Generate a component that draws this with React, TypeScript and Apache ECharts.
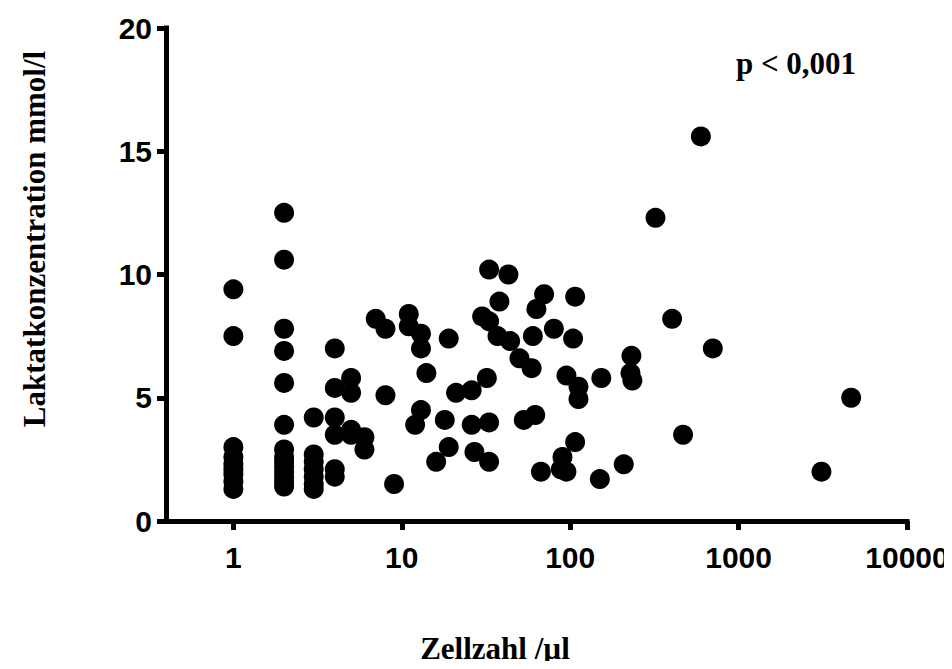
import React, { useEffect, useRef } from "react";
import * as echarts from "echarts";

// Cell count per µl (x, log scale) and lactate concentration mmol/l (y)
const cellCount: number[] = [
  1, 1, 1, 1, 1, 1, 1, 1, 1,
  2, 2, 2, 2, 2, 2, 2, 2, 2, 2, 2, 2, 2, 2,
  3, 3, 3, 3, 3, 3, 3,
  4, 4, 4, 4, 4, 4,
  5, 5, 5, 5,
  6, 6,
  7, 8, 8, 9,
  11, 11, 12, 13, 13, 13, 14, 16, 18, 19, 19, 21, 26, 26, 27,
  30, 32, 33, 33, 33, 33, 37, 38, 43, 44, 50, 53, 59, 60, 62, 63, 67, 70, 80,
  88, 90, 95, 95, 104, 107, 107, 112, 112, 150, 153, 208, 228, 231, 234,
  321, 403, 468, 597, 703, 3105, 4659,
];
const lactate: number[] = [
  9.4, 7.5, 3.0, 2.6, 2.3, 2.1, 1.9, 1.6, 1.3,
  12.5, 10.6, 7.8, 6.9, 5.6, 3.9, 2.9, 2.6, 2.4, 2.2, 2.0, 1.8, 1.6, 1.4,
  4.2, 2.7, 2.4, 2.1, 1.8, 1.5, 1.3,
  7.0, 5.4, 4.2, 3.5, 2.1, 1.8,
  5.8, 5.2, 3.7, 3.5,
  3.4, 2.9,
  8.2, 7.8, 5.1, 1.5,
  8.4, 7.9, 3.9, 7.6, 7.0, 4.5, 6.0, 2.4, 4.1, 7.4, 3.0, 5.2, 5.3, 3.9, 2.8,
  8.3, 5.8, 10.2, 8.1, 4.0, 2.4, 7.5, 8.9, 10.0, 7.3, 6.6, 4.1, 6.2, 7.5, 4.3, 8.6, 2.0, 9.2, 7.8,
  2.1, 2.6, 5.9, 2.0, 7.4, 9.1, 3.2, 5.45, 4.95, 1.7, 5.8, 2.3, 6.0, 6.7, 5.7,
  12.3, 8.2, 3.5, 15.6, 7.0, 2.0, 5.0,
];

const xTicks: number[] = [1, 10, 100, 1000, 10000];
const yTicks: number[] = [0, 5, 10, 15, 20];

const xTitle = "Zellzahl /µl";
const yTitle = "Laktatkonzentration mmol/l";
const pText = "p < 0,001";

const SANS = "'Liberation Sans', Arial, sans-serif";
const SERIF = "'Liberation Serif', 'Times New Roman', serif";

export default function App() {
  const ref = useRef<HTMLDivElement>(null);

  useEffect(() => {
    if (!ref.current) return;
    const chart = echarts.init(ref.current, undefined, { renderer: "svg" });
    const data = cellCount.map((c, i) => [c, lactate[i]]);
    const axisLine = { show: true, lineStyle: { color: "#000", width: 5, cap: "square" as const } };
    chart.setOption({
      animation: false,
      backgroundColor: "#fff",
      grid: { left: 166, right: 45, top: 28, bottom: 148, containLabel: false },
      xAxis: {
        type: "log",
        logBase: 10,
        min: 0.398,
        max: 10000,
        axisLine,
        axisTick: { show: true, length: 9, lineStyle: { color: "#000", width: 5 }, customValues: xTicks },
        axisLabel: {
          customValues: xTicks,
          formatter: (v: number) => String(Math.round(v)),
          color: "#000",
          fontFamily: SANS,
          fontWeight: "bold",
          fontSize: 30,
          margin: 21,
        },
        splitLine: { show: false },
        minorTick: { show: false },
      },
      yAxis: {
        type: "value",
        min: yTicks[0],
        max: yTicks[yTicks.length - 1],
        interval: 5,
        axisLine,
        axisTick: { show: true, length: 9, lineStyle: { color: "#000", width: 5 } },
        axisLabel: {
          color: "#000",
          fontFamily: SANS,
          fontWeight: "bold",
          fontSize: 30,
          margin: 14,
        },
        splitLine: { show: false },
      },
      series: [
        {
          type: "scatter",
          data,
          symbol: "circle",
          symbolSize: 20,
          itemStyle: { color: "#000", opacity: 1 },
        },
      ],
      graphic: [
        {
          type: "text",
          x: 34,
          y: 239,
          rotation: Math.PI / 2,
          style: {
            text: yTitle,
            fill: "#000",
            font: `bold 31px ${SERIF}`,
            textAlign: "center",
            textVerticalAlign: "middle",
          },
        },
        {
          type: "text",
          x: 495,
          y: 648,
          style: {
            text: xTitle,
            fill: "#000",
            font: `bold 31px ${SERIF}`,
            textAlign: "center",
            textVerticalAlign: "middle",
          },
        },
        {
          type: "text",
          x: 796,
          y: 63,
          style: {
            text: pText,
            fill: "#000",
            font: `bold 31px ${SERIF}`,
            textAlign: "center",
            textVerticalAlign: "middle",
          },
        },
      ],
    });
    return () => chart.dispose();
  }, []);

  return <div ref={ref} style={{ width: 952, height: 669, margin: -8 }} />;
}
